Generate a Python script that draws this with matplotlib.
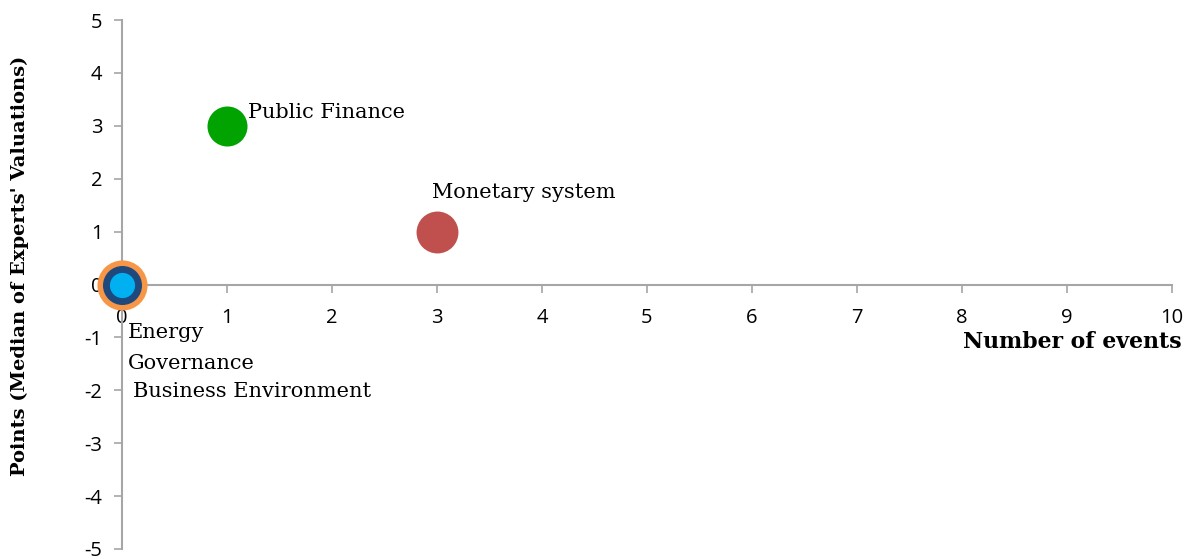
import matplotlib
matplotlib.use("Agg")
import matplotlib.pyplot as plt

plt.rcParams["axes.unicode_minus"] = False

# Data
categories = ["Energy", "Governance", "Business Environment", "Public Finance", "Monetary system"]
events = [0, 0, 0, 1, 3]
points = [0, 0, 0, 3, 1]

colors = ["#F79646", "#1F497D", "#00B0F0", "#00A300", "#C0504D"]
sizes = [1300, 790, 330, 830, 910]
label_offsets = [(6, -48), (6, -79), (11, -107), (21, 13), (-5, 39)]

fig = plt.figure(figsize=(11.87, 5.59), dpi=100)
ax = fig.add_axes([122/1187, 1 - 549/559, (1172 - 122)/1187, (549 - 20)/559])

for x, y, c, s in zip(events, points, colors, sizes):
    ax.scatter([x], [y], s=s, color=c, zorder=3, clip_on=False, linewidths=0)

for name, x, y, off in zip(categories, events, points, label_offsets):
    ax.annotate(name, (x, y), xytext=off, textcoords="offset pixels",
                ha="left", va="center", fontsize=15, family="DejaVu Serif",
                zorder=4)

ax.set_xlim(0, 10)
ax.set_ylim(-5, 5)
ax.set_xticks(range(0, 11))
ax.set_yticks(range(-5, 6))

spine_col = "#A6A6A6"
ax.spines["left"].set_position(("data", 0))
ax.spines["bottom"].set_position(("data", 0))
ax.spines["top"].set_visible(False)
ax.spines["right"].set_visible(False)
for sp in ("left", "bottom"):
    ax.spines[sp].set_color(spine_col)
    ax.spines[sp].set_linewidth(1.5)
ax.tick_params(axis="both", direction="out", length=6, width=1.2, color=spine_col,
               labelsize=14.5, labelcolor="black")
ax.tick_params(axis="x", pad=11)
ax.tick_params(axis="y", pad=8)
for lab in ax.get_xticklabels() + ax.get_yticklabels():
    lab.set_family("Open Sans")

ax.patch.set_visible(False)

fig.text(1182/1187, 1 - 342/559, "Number of events", ha="right", va="center",
         fontsize=15.8, fontweight="bold", family="DejaVu Serif")
fig.text(20/1187, 1 - 266/559, "Points (Median of Experts' Valuations)", ha="center",
         va="center", rotation=90, fontsize=14, fontweight="bold", family="DejaVu Serif")

fig.savefig("out.png", dpi=100)
